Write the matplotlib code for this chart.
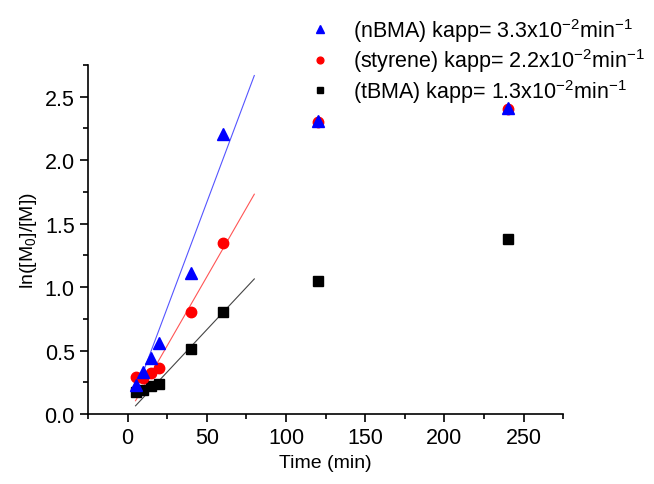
import matplotlib
matplotlib.use('Agg')
import matplotlib.pyplot as plt
import numpy as np

plt.rcParams['font.family'] = ['Liberation Sans', 'DejaVu Sans']
plt.rcParams['mathtext.fontset'] = 'custom'
plt.rcParams['mathtext.rm'] = 'Liberation Sans'
plt.rcParams['mathtext.it'] = 'Liberation Sans'
plt.rcParams['mathtext.default'] = 'regular'

# reaction time (min)
time = [5, 10, 15, 20, 40, 60, 120, 240]

# ln([M0]/[M]) values
nbma = [0.23, 0.33, 0.44, 0.56, 1.11, 2.21, 2.31, 2.41]
styrene = [0.29, 0.28, 0.32, 0.36, 0.80, 1.35, 2.30, 2.40]
tbma = [0.17, 0.19, 0.22, 0.24, 0.51, 0.80, 1.05, 1.38]

# linear fits drawn over 5..80 min: (slope, intercept)
fit_range = [5, 80]
nbma_fit = (0.0333, 0.003)
styrene_fit = (0.0217, -0.004)
tbma_fit = (0.01333, -0.002)

labels = [
    '(nBMA) kapp= 3.3x10$^{-2}$min$^{-1}$',
    '(styrene) kapp= 2.2x10$^{-2}$min$^{-1}$',
    '(tBMA) kapp= 1.3x10$^{-2}$min$^{-1}$',
]

fig = plt.figure(figsize=(6.54, 4.85), dpi=100)
ax = fig.add_axes([0.1346, 0.1443, 0.7264, 0.7196])

xf = np.array(fit_range)
ax.plot(xf, tbma_fit[0] * xf + tbma_fit[1], color='#444444', lw=0.8)
ax.plot(xf, styrene_fit[0] * xf + styrene_fit[1], color='#ff5555', lw=0.8)
ax.plot(xf, nbma_fit[0] * xf + nbma_fit[1], color='#5555ff', lw=0.8)

h_t, = ax.plot(time, tbma, 's', color='black', ms=7, label=labels[2])
h_s, = ax.plot(time, styrene, 'o', color='red', ms=7.5, label=labels[1])
h_n, = ax.plot(time, nbma, '^', color='blue', ms=8, label=labels[0])

ax.set_xlim(-25, 275)
ax.set_ylim(0, 2.75)
ax.set_xticks([0, 50, 100, 150, 200, 250])
ax.set_xticks(np.arange(-25, 276, 25), minor=True)
ax.set_yticks([0.0, 0.5, 1.0, 1.5, 2.0, 2.5])
ax.set_yticks(np.arange(0, 2.76, 0.25), minor=True)
ax.yaxis.set_major_formatter(matplotlib.ticker.FormatStrFormatter('%.1f'))

ax.spines['top'].set_visible(False)
ax.spines['right'].set_visible(False)
for s in ['left', 'bottom']:
    ax.spines[s].set_linewidth(1.2)
ax.tick_params(which='major', direction='out', length=6, width=1.2, labelsize=15.5)
ax.tick_params(which='minor', direction='out', length=3.5, width=1.2)

ax.set_xlabel('Time (min)', fontsize=14)
ax.set_ylabel('ln([M$_0$]/[M])', fontsize=14)

fig.legend(handles=[h_n, h_s, h_t], labels=labels, loc='upper left',
           bbox_to_anchor=(0.447, 1.005), frameon=False, fontsize=15.5,
           handlelength=0.8, handletextpad=1.1, labelspacing=0.12,
           markerscale=0.65)

fig.savefig('out.png', dpi=100)
